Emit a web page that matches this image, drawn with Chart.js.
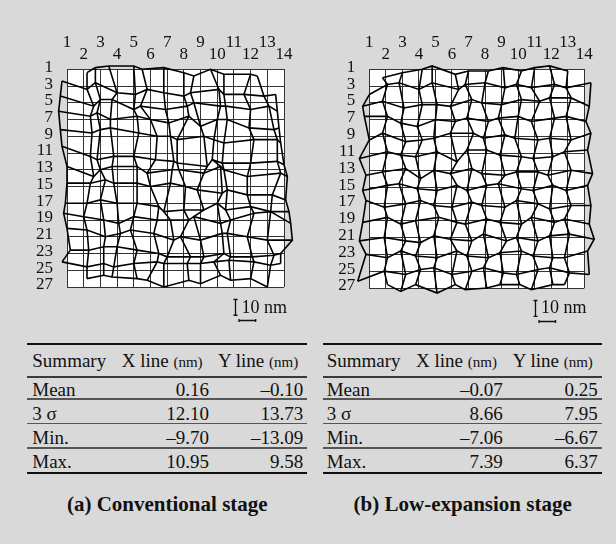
<!DOCTYPE html>
<html><head><meta charset="utf-8">
<script src="https://cdn.jsdelivr.net/npm/chart.js@4.4.0/dist/chart.umd.min.js"></script>
<style>
html,body{margin:0;padding:0;background:#d9d9d9;}
#page{position:relative;width:616px;height:544px;background:#d9d9d9;overflow:hidden;font-family:'Liberation Serif','Times New Roman',serif;color:#111;}
canvas{position:absolute;}
.t{position:absolute;white-space:nowrap;line-height:1;}
.rule{position:absolute;}
</style></head><body>
<div id="page">
<canvas id="ca" width="308" height="330" style="left:0;top:0"></canvas>
<canvas id="cb" width="308" height="330" style="left:308px;top:0"></canvas>
</div>
<script>
// ---------- data ----------
const COL_LABELS = ['1','2','3','4','5','6','7','8','9','10','11','12','13','14'];
const ROW_LABELS = ['1','3','5','7','9','11','13','15','17','19','21','23','25','27'];
const NM_PER_CELL = 10; // scale bar: 10 nm

// (a) conventional stage: displacement of each mark, nm (rows 1..27 odd, cols 1..14)
const A_DX = [
 [null, 2,-3,-5, 0,-5,-2, 0,-4,-4,-6, 0,-6,null],
 [-3, 2,-3, 0, 1,-2,-2, 0,-6, 1,-6,-4,-2,-5],
 [-4, 6, 0,-3, 0,-6,-1, 2,-4, 2,-5, 0, 1,-4],
 [-5, 4,-2,-4, 2, 0, 1, 3, 0, 0,-4,-1, 4,-3],
 [-4, 5, 0,-4, 3, 4, 2,-4, 2,-2,-6, 2, 6,-2],
 [-3, 4,-2,-2, 0, 3, 4,-4, 4,-3,-7, 0, 6, 0],
 [ 0, 6, 0,-3, 2,-2, 3,-3, 2, 2,-6,-2, 8, 2],
 [ 0, 4, 3,-2, 2, 0, 2, 1,-2, 3,-4,-2, 3, 1],
 [-1, 2, 0, 0, 2, 5,-2, 0, 2, 0,-5, 0, 2, 3],
 [-2, 0, 2, 1, 0, 4, 2, 3,-4, 2,-2, 2, 2, 4],
 [ 0, 2, 3, 2,-2, 2, 4,-2, 0, 3,-4,-2, 0, 5],
 [ 2, 3, 2, 0, 2, 5, 0, 4, 2, 4,-2, 1, 4,-2],
 [-3, 2, 2,-2, 0, 4,-2, 2, 0,-2,-3, 2, 2,-2],
 [null, 2, 2,-3, 2,-2,-2, 3, 0, 2,-2, 0, 0,null]
];
const A_DY = [
 [null, 2,-1,-2,-2, 0,-1, 2, 4, 0, 3, 3, 4,null],
 [-3, 2,-2, 4, 5, 2, 4, 6, 4, 2, 5, 5, 6, 5],
 [-4, 2,-2,-2, 4, 2, 4, 2, 0, 2, 2, 4, 2, 5],
 [-5,-2,-4, 0,-2, 0, 2,-2, 4, 0, 0, 5, 6, 5],
 [-4,-2,-4,-5,-2, 0, 0, 2, 0, 2, 4, 2, 2, 4],
 [-4, 2, 4, 2, 2, 4, 5, 6, 8, 4, 6, 6, 5, 7],
 [-2, 4, 0,-2,-2, 2, 0, 0, 2,-2, 0, 4, 2, 4],
 [-2,-2,-4,-2,-2, 0,-2, 0, 2, 4, 2, 5, 5, 8],
 [ 0, 0,-2, 0, 0, 2, 5, 4, 4, 0, 4, 2, 5, 5],
 [-4,-2, 0, 2,-2, 0, 0, 0,-2, 2, 0,-4,-5, 2],
 [-5,-4, 0,-2,-4,-2, 2, 0, 2,-2,-2, 0, 2, 2],
 [-2,-2,-4,-4,-2, 0, 2, 2, 2, 0, 2, 2, 1, 0],
 [-5,-2,-4,-2,-4,-5,-4,-4,-4,-5,-6,-5,-3,-4],
 [null,-5,-7,-6,-5,-4, 0,-4,-2,-7,-4,-5, 0,null]
];

// (b) low-expansion stage
const B_DX = [
 [null,-2, 0, 2,-2, 2, 0, 2, 1, 2, 0,-1, 0,null],
 [ 0, 1,-2, 0,-2, 4,-2, 0, 2,-1,-2, 2,-1, 4],
 [-4,-2, 1, 2, 1,-1, 2,-2, 0, 2, 3,-1, 2, 3],
 [-3, 1,-1,-1, 0, 2,-1, 2,-2, 0,-2, 2,-1, 1],
 [ 0,-2, 2, 2,-1,-1, 3,-1, 2,-2, 2,-1, 2, 4],
 [-6, 1,-1,-2, 1, 3,-1, 1,-1, 2,-1, 1,-2, 2],
 [-2,-2, 2, 1,-1,-1, 2,-2, 2,-1, 2,-2, 2, 5],
 [-4, 1,-2,-1, 1, 3,-1, 1,-2, 2,-1, 1,-1, 2],
 [-2,-1, 2, 1,-1, 0, 2,-2, 2,-1, 2,-1, 2, 4],
 [-4, 1,-1,-2, 2, 3,-2, 1,-1, 2,-2, 2,-2, 3],
 [-6,-1, 2, 1,-1,-1, 2,-1, 3,-1, 2,-1, 1, 6],
 [-2, 1,-1,-2, 1, 3,-1, 2,-1, 2,-1, 1,-2, 2],
 [-7,-1, 2, 1,-1, 0, 2,-1, 1,-1, 2,-1, 1, 3],
 [null, 1,-1,-2, 1, 2,-2, 1,-1, 1,-2, 1,-2,null]
];
const B_DY = [
 [null, 5, 2, 0,-2, 3, 1, 1,-1, 1,-1,-2, 1,null],
 [ 5,-1,-2, 2,-2, 2,-1,-2, 1,-1, 1,-1, 1,-2],
 [ 2,-1, 3, 1, 1, 2,-2, 0, 1,-2,-1,-3,-3, 2],
 [-2,-2, 2, 4, 0, 1,-1, 1,-1,-2, 1,-1,-2, 1],
 [ 2,-2, 3, 2, 1,-2,-2, 1,-1, 1, 2, 1, 2,-2],
 [ 3,-1, 1, 2,-1, 5,-2,-2, 1, 2, 3, 2,-1,-2],
 [ 3, 1,-1, 5, 0, 2,-1, 2, 3, 1, 1, 3, 0, 2],
 [ 2,-1,-2, 1, 2,-1, 2,-1,-2, 1, 2,-1, 2,-1],
 [-2, 2, 0,-2, 1, 2,-1, 1, 2,-2, 0, 3, 1, 1],
 [ 1,-2, 2, 0,-2, 1, 2,-1, 1, 2,-2, 1,-1, 2],
 [ 2, 0, 2, 3,-1, 1, 2,-2, 2, 0, 2,-1,-2, 1],
 [ 0, 2,-2, 1, 2,-2, 1, 2,-1,-2, 1, 2, 2,-2],
 [ 6, 0, 2,-1,-2, 2, 0,-2, 1, 2,-1,-2, 1, 2],
 [null,-2, 2,-2, 3,-2, 1, 0,-2,-2, 1,-2,-2,null]
];

const SUMMARY_HEAD = ['Summary', 'X line', 'Y line'];
const UNIT = '(nm)';
const SUMMARY_ROWS = ['Mean', '3 σ', 'Min.', 'Max.'];
const A_XLINE = ['0.16', '12.10', '–9.70', '10.95'];
const A_YLINE = ['–0.10', '13.73', '–13.09', '9.58'];
const B_XLINE = ['–0.07', '8.66', '–7.06', '7.39'];
const B_YLINE = ['0.25', '7.95', '–6.67', '6.37'];
const CAPTIONS = ['(a) Conventional stage', '(b) Low-expansion stage'];
const SCALE_TEXT = '10 nm';

// ---------- charts ----------
const FONT = "'Liberation Serif','Times New Roman',serif";

function buildDatasets(dx, dy) {
  const pt = (r, c) => dx[r][c] === null ? null :
    {x: c + 1 + dx[r][c] / NM_PER_CELL, y: r + 1 + dy[r][c] / NM_PER_CELL};
  const idx = COL_LABELS.map((_, i) => i);
  const rdx = ROW_LABELS.map((_, i) => i);
  const sets = [];
  rdx.forEach(r => sets.push(idx.map(c => pt(r, c)).filter(Boolean)));
  idx.forEach(c => sets.push(rdx.map(r => pt(r, c)).filter(Boolean)));
  return sets.map(d => ({data: d, showLine: true, borderColor: '#000', borderWidth: 1.6,
    pointRadius: 0, fill: false, clip: false, tension: 0}));
}

const bgPlugin = {
  id: 'bg',
  beforeDraw(chart) {
    const {ctx, chartArea: a} = chart;
    ctx.save(); ctx.fillStyle = '#fff';
    ctx.fillRect(a.left, a.top, a.right - a.left, a.bottom - a.top);
    ctx.restore();
  }
};

const scaleBarPlugin = {
  id: 'scaleBar',
  afterDraw(chart) {
    const {ctx, chartArea: a, scales: {x, y}} = chart;
    const lx = x.getPixelForValue(2) - x.getPixelForValue(1);
    const ly = y.getPixelForValue(2) - y.getPixelForValue(1);
    const ix = Math.round(a.right - 49) + 0.5, iy = a.bottom + 12.5;
    ctx.save();
    ctx.strokeStyle = '#111'; ctx.lineWidth = 1.3;
    ctx.beginPath();
    ctx.moveTo(ix, iy); ctx.lineTo(ix, iy + ly * 0.94);
    ctx.moveTo(ix - 2, iy); ctx.lineTo(ix + 2, iy);
    ctx.moveTo(ix - 2, iy + ly * 0.94); ctx.lineTo(ix + 2, iy + ly * 0.94);
    const hy = Math.round(a.bottom + 33) + 0.5, hx = ix + 3.5;
    ctx.moveTo(hx, hy); ctx.lineTo(hx + lx, hy);
    ctx.moveTo(hx, hy - 1.5); ctx.lineTo(hx, hy + 1.5);
    ctx.moveTo(hx + lx, hy - 1.5); ctx.lineTo(hx + lx, hy + 1.5);
    ctx.stroke();
    ctx.restore();
  }
};

function makeChart(id, dx, dy, leftW, topH, padR, padB) {
  const gridOpts = {color: '#333', lineWidth: 1, drawTicks: false};
  return new Chart(document.getElementById(id), {
    type: 'scatter',
    data: {datasets: buildDatasets(dx, dy)},
    options: {
      responsive: false, animation: false, devicePixelRatio: 1,
      layout: {padding: {left: 0, top: 0, right: padR, bottom: padB}},
      plugins: {legend: {display: false}, tooltip: {enabled: false}},
      scales: {
        x: {
          type: 'linear', position: 'top', min: 1, max: COL_LABELS.length,
          afterBuildTicks: s => { s.ticks = COL_LABELS.map((_, i) => ({value: i + 1})); },
          afterFit: s => { s.height = topH; },
          grid: gridOpts, border: {color: '#333', width: 1},
          ticks: {
            autoSkip: false, maxRotation: 0, minRotation: 0, padding: 9, color: '#111',
            font: {family: FONT, size: 17, lineHeight: 0.69},
            callback: (v, i) => i % 2 === 0 ? [COL_LABELS[i], ''] : ['', COL_LABELS[i]]
          }
        },
        y: {
          type: 'linear', position: 'left', reverse: true, min: 1, max: ROW_LABELS.length,
          afterBuildTicks: s => { s.ticks = ROW_LABELS.map((_, i) => ({value: i + 1})); },
          afterFit: s => { s.width = leftW; },
          grid: gridOpts, border: {color: '#333', width: 1},
          ticks: {
            autoSkip: false, padding: 14, color: '#111', labelOffset: -2,
            font: {family: FONT, size: 17},
            callback: (v, i) => ROW_LABELS[i]
          }
        }
      }
    },
    plugins: [bgPlugin, scaleBarPlugin]
  });
}

makeChart('ca', A_DX, A_DY, 67, 69.3, 24, 43);
makeChart('cb', B_DX, B_DY, 61.3, 69.3, 31.7, 42);

// ---------- text, tables ----------
const page = document.getElementById('page');
function txt(html, x, base, size, align, bold) {
  const d = document.createElement('div');
  d.className = 't'; d.innerHTML = html; d.style.fontSize = size + 'px';
  d.style.top = (base - 0.8375 * size) + 'px';
  if (bold) d.style.fontWeight = 'bold';
  if (align === 'left') d.style.left = x + 'px';
  else if (align === 'right') d.style.right = (616 - x) + 'px';
  else { d.style.left = x + 'px'; d.style.transform = 'translateX(-50%)'; }
  page.appendChild(d);
}
function rule(x0, x1, y, h, color) {
  const d = document.createElement('div');
  d.className = 'rule';
  d.style.left = x0 + 'px'; d.style.width = (x1 - x0) + 'px';
  d.style.top = y + 'px'; d.style.height = h + 'px'; d.style.background = color;
  page.appendChild(d);
}

txt(SCALE_TEXT, 241.5, 312.7, 18, 'left');
txt(SCALE_TEXT, 541, 312.7, 18, 'left');

function table(x0, x1, xName, xHx, xXr, xHy, xYr, xv, yv) {
  rule(x0, x1, 343, 2, '#111');
  rule(x0, x1, 375.5, 2, '#3a3a3a');
  rule(x0, x1, 398, 1.6, '#555');
  rule(x0, x1, 422.5, 1.6, '#555');
  rule(x0, x1, 447, 1.6, '#555');
  rule(x0, x1, 471.5, 2, '#111');
  const unit = ' <span style="font-size:15px">' + UNIT + '</span>';
  txt(SUMMARY_HEAD[0], xName, 367.3, 19, 'left');
  txt(SUMMARY_HEAD[1] + unit, xHx, 367.3, 19, 'left');
  txt(SUMMARY_HEAD[2] + unit, xHy, 367.3, 19, 'left');
  const bases = [396, 420, 444, 467.7];
  SUMMARY_ROWS.forEach((name, i) => {
    txt(name, xName, bases[i], 19, 'left');
    txt(xv[i], xXr, bases[i], 19, 'right');
    txt(yv[i], xYr, bases[i], 19, 'right');
  });
}
table(27.3, 307.3, 32.3, 121.7, 209, 218, 303.3, A_XLINE, A_YLINE);
table(323.3, 602, 326.7, 416, 502.7, 512.7, 597.7, B_XLINE, B_YLINE);

txt(CAPTIONS[0], 167.3, 512, 21, 'center', true);
txt(CAPTIONS[1], 462.7, 512, 21, 'center', true);
</script>
</body></html>
